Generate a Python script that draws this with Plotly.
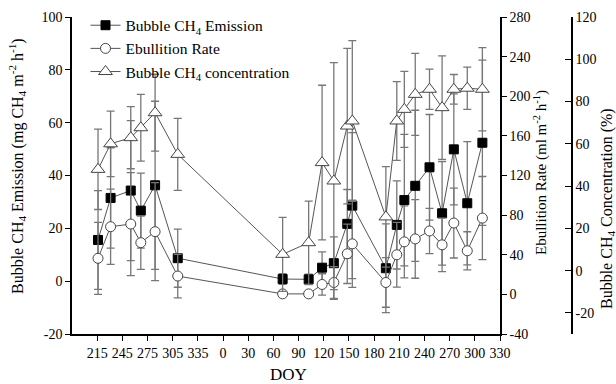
import plotly.graph_objects as go

# ---- data ----
doy = [216, 231, 255, 267, 284, 311,
       71, 102, 118, 132, 148, 154, 194, 207, 216, 229, 246, 261, 275, 291, 309]
year = [1, 1, 1, 1, 1, 1,
        2, 2, 2, 2, 2, 2, 2, 2, 2, 2, 2, 2, 2, 2, 2]
emission = [15.6, 31.5, 34.3, 26.7, 36.3, 8.7,
            0.8, 0.7, 5.1, 6.8, 21.7, 28.6, 4.9, 21.3, 30.7, 36.1, 43.1, 25.7, 49.9, 29.5, 52.4]
emission_err = [18.7, 19, 26.5, 14.2, 31.8, 11,
                2, 2, 6, 10, 13, 27.6, 16.8, 16.7, 24.9, 28.6, 20, 19.6, 21, 23.3, 31.3]
ebullition = [36.4, 68.3, 71.0, 52.2, 63.3, 18.5,
              0.5, 0.5, 10, 12, 41, 51, 12, 40, 53, 56, 64, 50, 72, 44, 77]
ebullition_err = [36.3, 38, 52, 26.9, 49.5, 22,
                  2, 2, 10.8, 16, 30, 44, 25, 32.6, 36.3, 39.7, 22.8, 27, 35.3, 19.2, 42]
concentration = [47.9, 60.0, 62.9, 67.6, 74.7, 55.0,
                 7.7, 13.2, 51.1, 42.4, 68.4, 70.8, 25.4, 70.8, 76.3, 83.4, 85.8, 77.1, 85.8, 86.3, 85.8]
concentration_err = [19, 15.5, 14.7, 15.8, 18.2, 17,
                     17.5, 19.7, 36.6, 56, 36.8, 38, 23.8, 18.6, 18, 19.4, 9.5, 24.5, 7, 10, 19.7]

tick_labels = ["215", "245", "275", "305", "335", "0", "30", "60", "90", "120",
               "150", "180", "210", "240", "270", "300", "330"]
tick_doy = [215, 245, 275, 305, 335, 0, 30, 60, 90, 120, 150, 180, 210, 240, 270, 300, 330]
tick_year = [1, 1, 1, 1, 1, 2, 2, 2, 2, 2, 2, 2, 2, 2, 2, 2, 2]

y1_ticks = [-20, 0, 20, 40, 60, 80, 100]
y2_ticks = [-40, 0, 40, 80, 120, 160, 200, 240, 280]
y3_ticks = [-20, 0, 20, 40, 60, 80, 100, 120]

x = [d + (365 if y == 2 else 0) for d, y in zip(doy, year)]
tickvals = [d + (365 if y == 2 else 0) for d, y in zip(tick_doy, tick_year)]

FONT = "Liberation Serif"
LINE = "#555555"
ERR = "#777777"

fig = go.Figure()
fig.add_trace(go.Scatter(
    x=x, y=emission, name="Bubble CH<sub>4</sub> Emission", mode="lines+markers",
    line=dict(color=LINE, width=1),
    marker=dict(symbol="square", size=9, color="black", line=dict(color="black", width=1)),
    error_y=dict(type="data", array=emission_err, color=ERR, thickness=1.3, width=4),
    yaxis="y"))
fig.add_trace(go.Scatter(
    x=x, y=ebullition, name="Ebullition Rate", mode="lines+markers",
    line=dict(color=LINE, width=1),
    marker=dict(symbol="circle", size=10, color="white", line=dict(color="#444444", width=1)),
    error_y=dict(type="data", array=ebullition_err, color=ERR, thickness=1.3, width=4),
    yaxis="y2"))
fig.add_trace(go.Scatter(
    x=x, y=concentration, name="Bubble CH<sub>4</sub> concentration", mode="lines+markers",
    line=dict(color=LINE, width=1),
    marker=dict(symbol="triangle-up", size=12, color="white", line=dict(color="#444444", width=1)),
    error_y=dict(type="data", array=concentration_err, color=ERR, thickness=1.3, width=4),
    yaxis="y3"))

axfont = dict(family=FONT, size=14, color="black")
common = dict(showline=True, linecolor="black", linewidth=1.5, tickcolor="black",
              showgrid=False, zeroline=False, tickfont=axfont, automargin=False)

# paper: top margin 8 px, plot area height 326 px (8..334); y domain top at px 17
def py(p):
    return 1 - (p - 8) / 326.0

def px(p):
    return (p - 72) / 500.0

fig.update_layout(
    width=616, height=384,
    margin=dict(l=72, r=44, t=8, b=50),
    paper_bgcolor="white", plot_bgcolor="white",
    font=dict(family=FONT, size=14, color="black"),
    showlegend=True,
    legend=dict(x=0.027, y=0.998, xanchor="left", yanchor="top",
                bgcolor="rgba(0,0,0,0)", font=dict(family=FONT, size=15.5, color="black"),
                tracegroupgap=0),
    xaxis=dict(domain=[0, 0.856], range=[185, 695], tickvals=tickvals, ticktext=tick_labels,
               ticks="outside", ticklen=5, **common),
    yaxis=dict(domain=[0, py(17)], range=[-20, 100], tickvals=y1_ticks,
               ticktext=[str(v) for v in y1_ticks], ticks="outside", ticklen=5, **common),
    yaxis2=dict(range=[-40, 280], tickvals=y2_ticks, ticktext=[str(v) for v in y2_ticks],
                overlaying="y", side="right", anchor="x", ticks="outside", ticklen=5, **common),
    yaxis3=dict(range=[-30, 120], tickvals=y3_ticks, ticktext=[str(v) for v in y3_ticks],
                overlaying="y", side="right", anchor="free", position=1.0,
                ticks="inside", ticklen=6, **common),
    annotations=[
        dict(text="DOY", xref="paper", yref="paper", x=px(288), y=py(374),
             xanchor="center", yanchor="middle", showarrow=False,
             font=dict(family=FONT, size=17, color="black")),
        dict(text="Bubble CH<sub>4</sub> Emission (mg CH<sub>4</sub> m<sup>-2</sup> h<sup>-1</sup>)",
             textangle=-90, xref="paper", yref="paper", x=px(17), y=py(166),
             xanchor="center", yanchor="middle", showarrow=False,
             font=dict(family=FONT, size=16, color="black")),
        dict(text="Ebullition Rate (ml m<sup>-2</sup> h<sup>-1</sup>)", textangle=-90,
             xref="paper", yref="paper", x=px(540), y=py(173), xanchor="center", yanchor="middle",
             showarrow=False, font=dict(family=FONT, size=15, color="black")),
        dict(text="Bubble CH<sub>4</sub> Concentration (%)", textangle=-90,
             xref="paper", yref="paper", x=px(607), y=py(209), xanchor="center", yanchor="middle",
             showarrow=False, font=dict(family=FONT, size=16, color="black")),
    ],
)

fig.write_html("out.html")
